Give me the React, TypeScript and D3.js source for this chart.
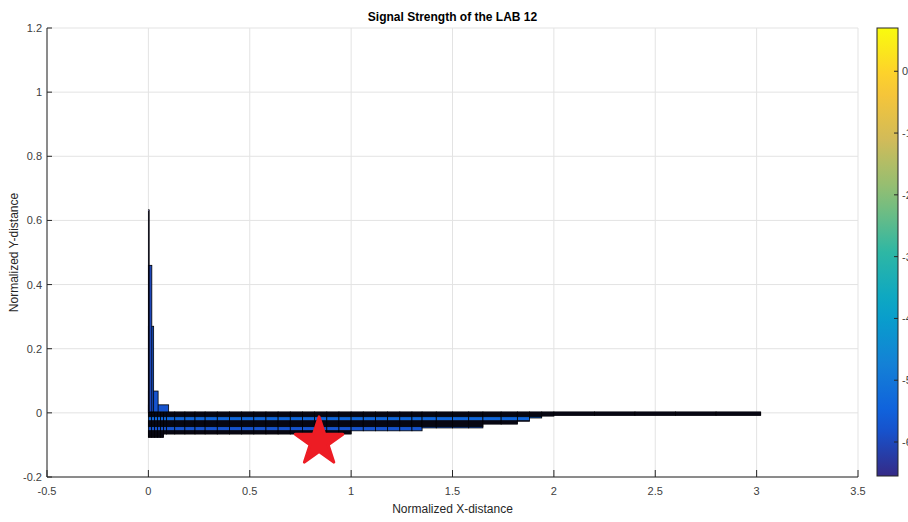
import React from "react";
import * as d3 from "d3";

// ---- data ----
const xTicks = [-0.5, 0, 0.5, 1, 1.5, 2, 2.5, 3, 3.5];
const yTicks = [-0.2, 0, 0.2, 0.4, 0.6, 0.8, 1, 1.2];
const cbTicks = [0, -1, -2, -3, -4, -5, -6];
const cbDomain = [-6.55, 0.7];
const parulaStops = ["#352a87", "#0f5cdd", "#1481d6", "#06a4ca", "#2eb7a4", "#87bf77", "#d1bb59", "#fec832", "#f9fb0e"];

// horizontal band (mesh of cells)
const colEdges = [0, 0.015, 0.03, 0.045, 0.06, 0.075, 0.09, 0.13, 0.18, 0.23, 0.28, 0.34, 0.40, 0.46, 0.52, 0.58, 0.64, 0.70, 0.76, 0.82, 0.88, 0.94, 1.0, 1.06, 1.12, 1.18, 1.24, 1.30, 1.35, 1.42, 1.50, 1.58, 1.65, 1.74, 1.82, 1.88, 1.94, 2.0, 2.2, 2.4, 2.6, 2.8, 3.02];
const colBottom = [-0.077, -0.077, -0.077, -0.077, -0.077, -0.066,
  -0.066, -0.066, -0.066, -0.066, -0.066, -0.066, -0.066, -0.066, -0.066, -0.066, -0.066, -0.066, -0.066, -0.066, -0.066, -0.066,
  -0.056, -0.056, -0.056, -0.056, -0.056, -0.056,
  -0.047, -0.047, -0.047, -0.047,
  -0.035, -0.035,
  -0.026, -0.016, -0.010,
  -0.008, -0.008, -0.008, -0.008, -0.008];
const bandTop = 0.003;
const rowEdges = [0.003, 0.0, -0.003, -0.006, -0.009, -0.012, -0.025, -0.028, -0.031, -0.034, -0.037, -0.040, -0.043, -0.056, -0.059, -0.062, -0.065, -0.068, -0.071, -0.074, -0.077];
const rowValues = [-6.5, -6.5, -6.5, -6.5, -6.5, -5.4, -6.5, -6.5, -6.5, -6.5, -6.5, -6.5, -5.8, -6.5, -6.5, -6.5, -6.5, -6.5, -6.5, -6.5];

// vertical spike near x = 0
const spikeRight = [0.1, 0.048, 0.026, 0.017, 0.004];
const spikeTop = [0.025, 0.068, 0.27, 0.46, 0.633];
const spikeValues = [-5.8, -5.8, -5.8, -6.0, -6.55];

// marker (star)
const starX = 0.842;
const starY = -0.0906;

// ---- layout ----
const W = 908, H = 522;
const L = 47, R = 858, T = 28, B = 477;
const CBX0 = 877, CBX1 = 898;
const font = "'Liberation Sans', Arial, Helvetica, sans-serif";

export default function App() {
  const x = d3.scaleLinear().domain([-0.5, 3.5]).range([L, R]);
  const y = d3.scaleLinear().domain([-0.2, 1.2]).range([B, T]);
  const interp = d3.piecewise(d3.interpolateRgb, parulaStops);
  const color = d3.scaleSequential(interp).domain(cbDomain);
  const cb = d3.scaleLinear().domain(cbDomain).range([B - 1, T]);

  const cells: { x0: number; x1: number; y0: number; y1: number; v: number }[] = [];
  for (let c = 0; c < colBottom.length; c++) {
    for (let r = 0; r < rowValues.length; r++) {
      const top = Math.min(rowEdges[r], bandTop);
      const bot = Math.max(rowEdges[r + 1], colBottom[c]);
      if (top <= bot) continue;
      cells.push({ x0: colEdges[c], x1: colEdges[c + 1], y0: bot, y1: top, v: rowValues[r] });
    }
  }

  const spikes = spikeRight.map((xr, i) => ({ x0: 0, x1: xr, y0: bandTop, y1: spikeTop[i], v: spikeValues[i] }));

  const sx = x(starX), sy = y(starY);
  const Ro = 25, Ri = Ro * 0.382;
  const starPts = d3.range(10).map((i) => {
    const a = (-90 + i * 36) * Math.PI / 180;
    const rr = i % 2 === 0 ? Ro : Ri;
    return [sx + rr * Math.cos(a), sy + rr * Math.sin(a)];
  });

  const gradStops = d3.range(0, 1.0001, 0.05);

  return (
    <svg width={W} height={H} style={{ position: "absolute", left: 0, top: 0, background: "#fff" }} fontFamily={font}>
      <defs>
        <linearGradient id="parula" x1="0" y1="1" x2="0" y2="0">
          {gradStops.map((t) => (
            <stop key={t} offset={t} stopColor={interp(t)} />
          ))}
        </linearGradient>
      </defs>
      <rect x={0} y={0} width={W} height={H} fill="#fff" />
      {/* grid */}
      {xTicks.map((t) => (
        <line key={"gx" + t} x1={x(t)} x2={x(t)} y1={T} y2={B} stroke="#e3e3e3" strokeWidth={1} />
      ))}
      {yTicks.map((t) => (
        <line key={"gy" + t} x1={L} x2={R} y1={y(t)} y2={y(t)} stroke="#e3e3e3" strokeWidth={1} />
      ))}
      {/* data cells */}
      {cells.map((c, i) => (
        <rect key={"c" + i} x={x(c.x0)} y={y(c.y1)} width={x(c.x1) - x(c.x0)} height={y(c.y0) - y(c.y1)}
          fill={color(c.v)} stroke="#000" strokeWidth={0.8} />
      ))}
      {spikes.map((c, i) => (
        <rect key={"s" + i} x={x(c.x0)} y={y(c.y1)} width={x(c.x1) - x(c.x0)} height={y(c.y0) - y(c.y1)}
          fill={color(c.v)} stroke="#000" strokeWidth={0.8} />
      ))}
      {/* star */}
      <polygon points={starPts.map((p) => p.join(",")).join(" ")} fill="#ed1c24" stroke="#ed1c24" strokeWidth={3} strokeLinejoin="round" />
      {/* axes */}
      <line x1={L} x2={L} y1={T} y2={B} stroke="#262626" strokeWidth={1} />
      <line x1={L} x2={R} y1={B} y2={B} stroke="#262626" strokeWidth={1} />
      {xTicks.map((t) => (
        <g key={"tx" + t}>
          <line x1={x(t)} x2={x(t)} y1={B} y2={B - 7} stroke="#262626" strokeWidth={1} />
          <text x={x(t)} y={495} textAnchor="middle" fontSize={11} fill="#404040">{t}</text>
        </g>
      ))}
      {yTicks.map((t) => (
        <g key={"ty" + t}>
          <line x1={L} x2={L + 5} y1={y(t)} y2={y(t)} stroke="#262626" strokeWidth={1} />
          <text x={42} y={y(t) + 4} textAnchor="end" fontSize={11} fill="#404040">{t}</text>
        </g>
      ))}
      <text x={(L + R) / 2} y={21} textAnchor="middle" fontSize={12} fontWeight="bold" fill="#000">Signal Strength of the LAB 12</text>
      <text x={(L + R) / 2} y={513} textAnchor="middle" fontSize={12} fill="#262626">Normalized X-distance</text>
      <text transform={`translate(18,${(T + B) / 2}) rotate(-90)`} textAnchor="middle" fontSize={12} fill="#262626">Normalized Y-distance</text>
      {/* colorbar */}
      <rect x={CBX0} y={T} width={CBX1 - CBX0} height={B - 1 - T} fill="url(#parula)" stroke="#262626" strokeWidth={1} />
      {cbTicks.map((t) => (
        <g key={"cb" + t}>
          <line x1={CBX1 - 4} x2={CBX1} y1={cb(t)} y2={cb(t)} stroke="#262626" strokeWidth={1} />
          <text x={902} y={cb(t) + 4} fontSize={11} fill="#404040">{t}</text>
        </g>
      ))}
    </svg>
  );
}
